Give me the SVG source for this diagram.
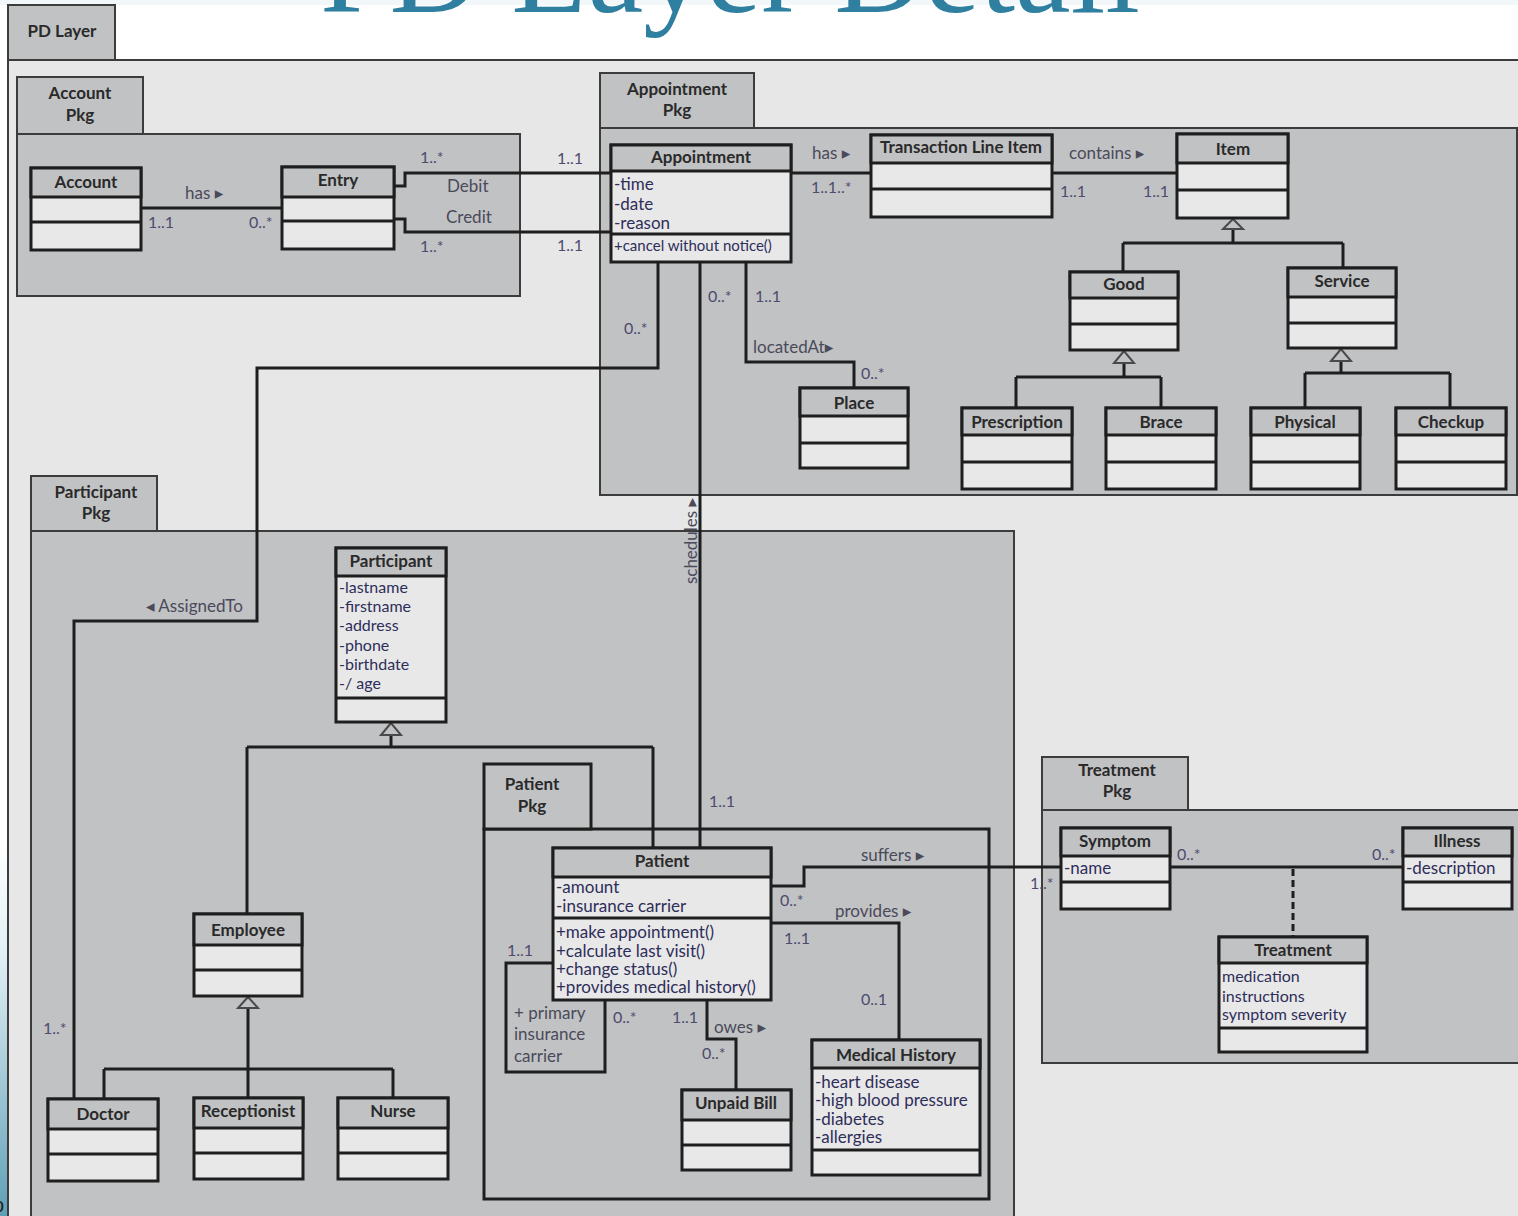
<svg xmlns="http://www.w3.org/2000/svg" width="1518" height="1216" viewBox="0 0 1518 1216">
<defs>
<linearGradient id="lg" x1="0" y1="0" x2="0" y2="1">
<stop offset="0" stop-color="#ffffff"/>
<stop offset="0.3" stop-color="#e2f0f5"/>
<stop offset="1" stop-color="#5f9fb5"/>
</linearGradient>
<style>
.frame{fill:#e7e7e7;stroke:#3c3c3c;stroke-width:2}
.pkg{fill:#c1c2c4;stroke:#3c3c3c;stroke-width:2}
.pkgb{fill:#c1c2c4;stroke:#1e1e1e;stroke-width:3}
.bx{fill:#e8e8e8;stroke:#1e1e1e;stroke-width:3}
.hd{fill:#c1c2c4;stroke:#1e1e1e;stroke-width:3}
.dv{stroke:#1e1e1e;stroke-width:3}
.ln{fill:none;stroke:#1e1e1e;stroke-width:3}
.dash{fill:none;stroke:#1e1e1e;stroke-width:3;stroke-dasharray:7 4}
.tri{fill:#c1c2c4;stroke:#4a4a4a;stroke-width:2}
text{font-family:Lato,"Liberation Sans","DejaVu Sans",sans-serif}
.pn{font-size:17px;font-weight:bold;fill:#2a2a2a;text-anchor:middle}
.nm{font-size:17px;font-weight:bold;fill:#2a2a2a;text-anchor:middle}
.at{font-size:17px;fill:#2e2e5a}
.at3{font-size:16px;fill:#2e2e5a}
.at2{font-size:15px;fill:#2e2e5a}
.mu{font-size:16px;fill:#4e4a6e}
.lb{font-size:17px;fill:#4a4a5a}
.title{font-family:"Liberation Serif","DejaVu Serif",serif;font-size:122px;fill:#2f7fa0}
</style>
</defs>

<rect x="0" y="0" width="1518" height="1216" fill="#ffffff"/>
<rect x="0" y="0" width="1518" height="5" fill="#f2f8fa"/>
<text class="title" x="320" y="12" textLength="820" lengthAdjust="spacingAndGlyphs">PD Layer Detail</text>
<rect x="0" y="840" width="8" height="376" fill="url(#lg)"/>
<text x="-7" y="1212" style="font-family:'Liberation Sans',sans-serif;font-size:20px;fill:#222">o</text>

<g id="pd-layer">
<rect class="frame" x="8" y="60" width="1520" height="1170"/>
<rect class="pkg" x="8" y="5" width="107" height="55"/>
<text class="pn" x="62" y="37">PD Layer</text>
</g>

<g id="account-pkg">
<rect class="pkg" x="17" y="134" width="503" height="162"/>
<rect class="pkg" x="17" y="77" width="126" height="57"/>
<text class="pn" x="80" y="99">Account</text>
<text class="pn" x="80" y="121">Pkg</text>
</g>

<g id="appointment-pkg">
<rect class="pkg" x="600" y="128" width="917" height="367"/>
<rect class="pkg" x="600" y="73" width="154" height="55"/>
<text class="pn" x="677" y="95">Appointment</text>
<text class="pn" x="677" y="116">Pkg</text>
</g>

<g id="participant-pkg">
<rect class="pkg" x="31" y="531" width="983" height="700"/>
<rect class="pkg" x="31" y="476" width="126" height="55"/>
<text class="pn" x="96" y="498">Participant</text>
<text class="pn" x="96" y="519">Pkg</text>
</g>

<g id="patient-pkg">
<rect class="pkgb" x="484" y="829" width="505" height="370"/>
<rect class="pkgb" x="484" y="764" width="107" height="65"/>
<text class="pn" x="532" y="790">Patient</text>
<text class="pn" x="532" y="812">Pkg</text>
</g>

<g id="treatment-pkg">
<rect class="pkg" x="1042" y="810" width="490" height="253"/>
<rect class="pkg" x="1042" y="757" width="146" height="53"/>
<text class="pn" x="1117" y="776">Treatment</text>
<text class="pn" x="1117" y="797">Pkg</text>
</g>

<g id="connectors">
<path class="ln" d="M141 208 H282"/>
<path class="ln" d="M394 186 H405 V173 H611"/>
<path class="ln" d="M394 219 H405 V232 H611"/>
<path class="ln" d="M791 173 H871"/>
<path class="ln" d="M1052 173 H1177"/>
<path class="ln" d="M1233 229 V243 M1123 243 H1343 M1123 243 V272 M1343 243 V268"/>
<polygon class="tri" points="1233,219 1223,229 1243,229"/>
<path class="ln" d="M1124 363 V377 M1016 377 H1161 M1016 377 V408 M1161 377 V408"/>
<polygon class="tri" points="1124,351 1114,363 1134,363"/>
<path class="ln" d="M1341 361 V373 M1305 373 H1450 M1305 373 V408 M1450 373 V408"/>
<polygon class="tri" points="1341,349 1331,361 1351,361"/>
<path class="ln" d="M658 262 V368 H257 V621 H74 V1099"/>
<path class="ln" d="M700 262 V848"/>
<path class="ln" d="M746 262 V362 H854 V388"/>
<path class="ln" d="M391 735 V747 M247 747 H653 M247 747 V914 M653 747 V848"/>
<polygon class="tri" points="391,723 381,735 401,735"/>
<path class="ln" d="M248 1008 V1098 M104 1069 H393 M104 1069 V1099 M393 1069 V1098"/>
<polygon class="tri" points="248,997 238,1008 258,1008"/>
<path class="ln" d="M771 886 H804 V867 H1061"/>
<path class="ln" d="M771 923 H899 V1040"/>
<path class="ln" d="M553 963 H506 V1072 H605 V1000"/>
<path class="ln" d="M707 1000 V1039 H736 V1090"/>
<path class="ln" d="M1170 867 H1403"/>
<path class="dash" d="M1293 869 V937"/>

<text class="lb" x="185" y="199">has ▸</text>
<text class="mu" x="148" y="228">1..1</text>
<text class="mu" x="249" y="228">0..*</text>
<text class="mu" x="420" y="163">1..*</text>
<text class="mu" x="420" y="252">1..*</text>
<text class="lb" x="447" y="192">Debit</text>
<text class="lb" x="446" y="223">Credit</text>
<text class="mu" x="557" y="164">1..1</text>
<text class="mu" x="557" y="251">1..1</text>
<text class="lb" x="812" y="159">has ▸</text>
<text class="mu" x="811" y="193">1..1..*</text>
<text class="lb" x="1069" y="159">contains ▸</text>
<text class="mu" x="1060" y="197">1..1</text>
<text class="mu" x="1143" y="197">1..1</text>
<text class="mu" x="708" y="302">0..*</text>
<text class="mu" x="755" y="302">1..1</text>
<text class="mu" x="624" y="334">0..*</text>
<text class="lb" x="753" y="353">locatedAt▸</text>
<text class="mu" x="861" y="379">0..*</text>
<text class="lb" x="146" y="612">◂ AssignedTo</text>
<text class="mu" x="43" y="1034">1..*</text>
<text class="lb" transform="translate(697,541) rotate(-90)" text-anchor="middle">schedules ▸</text>
<text class="mu" x="709" y="807">1..1</text>
<text class="lb" x="861" y="861">suffers ▸</text>
<text class="mu" x="780" y="906">0..*</text>
<text class="lb" x="835" y="917">provides ▸</text>
<text class="mu" x="784" y="944">1..1</text>
<text class="mu" x="861" y="1005">0..1</text>
<text class="mu" x="507" y="956">1..1</text>
<text class="lb" x="514" y="1019">+ primary</text>
<text class="lb" x="514" y="1040">insurance</text>
<text class="lb" x="514" y="1062">carrier</text>
<text class="mu" x="613" y="1023">0..*</text>
<text class="mu" x="672" y="1023">1..1</text>
<text class="lb" x="714" y="1033">owes ▸</text>
<text class="mu" x="702" y="1059">0..*</text>
<text class="mu" x="1030" y="889">1..*</text>
<text class="mu" x="1177" y="860">0..*</text>
<text class="mu" x="1372" y="860">0..*</text>
</g>

<g id="account">
<rect class="bx" x="31" y="168" width="110" height="82"/>
<rect class="hd" x="31" y="168" width="110" height="29"/>
<line class="dv" x1="31" y1="222" x2="141" y2="222"/>
<text class="nm" x="86" y="188">Account</text>
</g>
<g id="entry">
<rect class="bx" x="282" y="167" width="112" height="82"/>
<rect class="hd" x="282" y="167" width="112" height="30"/>
<line class="dv" x1="282" y1="221" x2="394" y2="221"/>
<text class="nm" x="338" y="186">Entry</text>
</g>
<g id="appointment">
<rect class="bx" x="611" y="145" width="180" height="117"/>
<rect class="hd" x="611" y="145" width="180" height="26"/>
<line class="dv" x1="611" y1="234" x2="791" y2="234"/>
<text class="nm" x="701" y="163">Appointment</text>
<text class="at" x="614" y="190">-time</text>
<text class="at" x="614" y="210">-date</text>
<text class="at" x="614" y="229">-reason</text>
<text class="at2" x="614" y="251">+cancel without notice()</text>
</g>
<g id="transaction-line-item">
<rect class="bx" x="871" y="135" width="181" height="82"/>
<rect class="hd" x="871" y="135" width="181" height="28"/>
<line class="dv" x1="871" y1="189" x2="1052" y2="189"/>
<text class="nm" x="961" y="153">Transaction Line Item</text>
</g>
<g id="item">
<rect class="bx" x="1177" y="134" width="111" height="84"/>
<rect class="hd" x="1177" y="134" width="111" height="29"/>
<line class="dv" x1="1177" y1="190" x2="1288" y2="190"/>
<text class="nm" x="1233" y="155">Item</text>
</g>
<g id="good">
<rect class="bx" x="1070" y="272" width="108" height="78"/>
<rect class="hd" x="1070" y="272" width="108" height="26"/>
<line class="dv" x1="1070" y1="324" x2="1178" y2="324"/>
<text class="nm" x="1124" y="290">Good</text>
</g>
<g id="service">
<rect class="bx" x="1288" y="268" width="108" height="80"/>
<rect class="hd" x="1288" y="268" width="108" height="29"/>
<line class="dv" x1="1288" y1="323" x2="1396" y2="323"/>
<text class="nm" x="1342" y="287">Service</text>
</g>
<g id="prescription">
<rect class="bx" x="962" y="408" width="110" height="81"/>
<rect class="hd" x="962" y="408" width="110" height="27"/>
<line class="dv" x1="962" y1="462" x2="1072" y2="462"/>
<text class="nm" x="1017" y="428">Prescription</text>
</g>
<g id="brace">
<rect class="bx" x="1106" y="408" width="110" height="81"/>
<rect class="hd" x="1106" y="408" width="110" height="27"/>
<line class="dv" x1="1106" y1="462" x2="1216" y2="462"/>
<text class="nm" x="1161" y="428">Brace</text>
</g>
<g id="physical">
<rect class="bx" x="1251" y="408" width="109" height="81"/>
<rect class="hd" x="1251" y="408" width="109" height="27"/>
<line class="dv" x1="1251" y1="462" x2="1360" y2="462"/>
<text class="nm" x="1305" y="428">Physical</text>
</g>
<g id="checkup">
<rect class="bx" x="1396" y="408" width="110" height="81"/>
<rect class="hd" x="1396" y="408" width="110" height="27"/>
<line class="dv" x1="1396" y1="462" x2="1506" y2="462"/>
<text class="nm" x="1451" y="428">Checkup</text>
</g>
<g id="place">
<rect class="bx" x="800" y="388" width="108" height="80"/>
<rect class="hd" x="800" y="388" width="108" height="28"/>
<line class="dv" x1="800" y1="443" x2="908" y2="443"/>
<text class="nm" x="854" y="409">Place</text>
</g>
<g id="participant">
<rect class="bx" x="336" y="548" width="110" height="174"/>
<rect class="hd" x="336" y="548" width="110" height="28"/>
<line class="dv" x1="336" y1="698" x2="446" y2="698"/>
<text class="nm" x="391" y="567">Participant</text>
<text class="at3" x="339" y="593">-lastname</text>
<text class="at3" x="339" y="612">-firstname</text>
<text class="at3" x="339" y="631">-address</text>
<text class="at3" x="339" y="651">-phone</text>
<text class="at3" x="339" y="670">-birthdate</text>
<text class="at3" x="339" y="689">-/ age</text>
</g>
<g id="employee">
<rect class="bx" x="194" y="914" width="108" height="82"/>
<rect class="hd" x="194" y="914" width="108" height="31"/>
<line class="dv" x1="194" y1="970" x2="302" y2="970"/>
<text class="nm" x="248" y="936">Employee</text>
</g>
<g id="doctor">
<rect class="bx" x="48" y="1099" width="110" height="82"/>
<rect class="hd" x="48" y="1099" width="110" height="30"/>
<line class="dv" x1="48" y1="1154" x2="158" y2="1154"/>
<text class="nm" x="103" y="1120">Doctor</text>
</g>
<g id="receptionist">
<rect class="bx" x="194" y="1098" width="109" height="81"/>
<rect class="hd" x="194" y="1098" width="109" height="30"/>
<line class="dv" x1="194" y1="1153" x2="303" y2="1153"/>
<text class="nm" x="248" y="1117">Receptionist</text>
</g>
<g id="nurse">
<rect class="bx" x="338" y="1098" width="110" height="81"/>
<rect class="hd" x="338" y="1098" width="110" height="30"/>
<line class="dv" x1="338" y1="1153" x2="448" y2="1153"/>
<text class="nm" x="393" y="1117">Nurse</text>
</g>
<g id="patient">
<rect class="bx" x="553" y="848" width="218" height="152"/>
<rect class="hd" x="553" y="848" width="218" height="29"/>
<line class="dv" x1="553" y1="918" x2="771" y2="918"/>
<text class="nm" x="662" y="867">Patient</text>
<text class="at" x="556" y="893">-amount</text>
<text class="at" x="556" y="912">-insurance carrier</text>
<text class="at" x="556" y="938">+make appointment()</text>
<text class="at" x="556" y="957">+calculate last visit()</text>
<text class="at" x="556" y="975">+change status()</text>
<text class="at" x="556" y="993">+provides medical history()</text>
</g>
<g id="unpaid-bill">
<rect class="bx" x="682" y="1090" width="109" height="80"/>
<rect class="hd" x="682" y="1090" width="109" height="30"/>
<line class="dv" x1="682" y1="1145" x2="791" y2="1145"/>
<text class="nm" x="736" y="1109">Unpaid Bill</text>
</g>
<g id="medical-history">
<rect class="bx" x="812" y="1040" width="168" height="135"/>
<rect class="hd" x="812" y="1040" width="168" height="28"/>
<line class="dv" x1="812" y1="1150" x2="980" y2="1150"/>
<text class="nm" x="896" y="1061">Medical History</text>
<text class="at" x="815" y="1088">-heart disease</text>
<text class="at" x="815" y="1106">-high blood pressure</text>
<text class="at" x="815" y="1125">-diabetes</text>
<text class="at" x="815" y="1143">-allergies</text>
</g>
<g id="symptom">
<rect class="bx" x="1061" y="828" width="109" height="81"/>
<rect class="hd" x="1061" y="828" width="109" height="28"/>
<line class="dv" x1="1061" y1="882" x2="1170" y2="882"/>
<text class="nm" x="1115" y="847">Symptom</text>
<text class="at" x="1064" y="874">-name</text>
</g>
<g id="illness">
<rect class="bx" x="1403" y="828" width="109" height="81"/>
<rect class="hd" x="1403" y="828" width="109" height="28"/>
<line class="dv" x1="1403" y1="882" x2="1512" y2="882"/>
<text class="nm" x="1457" y="847">Illness</text>
<text class="at" x="1406" y="874">-description</text>
</g>
<g id="treatment">
<rect class="bx" x="1219" y="937" width="148" height="115"/>
<rect class="hd" x="1219" y="937" width="148" height="26"/>
<line class="dv" x1="1219" y1="1028" x2="1367" y2="1028"/>
<text class="nm" x="1293" y="956">Treatment</text>
<text class="at3" x="1222" y="982">medication</text>
<text class="at3" x="1222" y="1002">instructions</text>
<text class="at3" x="1222" y="1020">symptom severity</text>
</g>
</svg>
